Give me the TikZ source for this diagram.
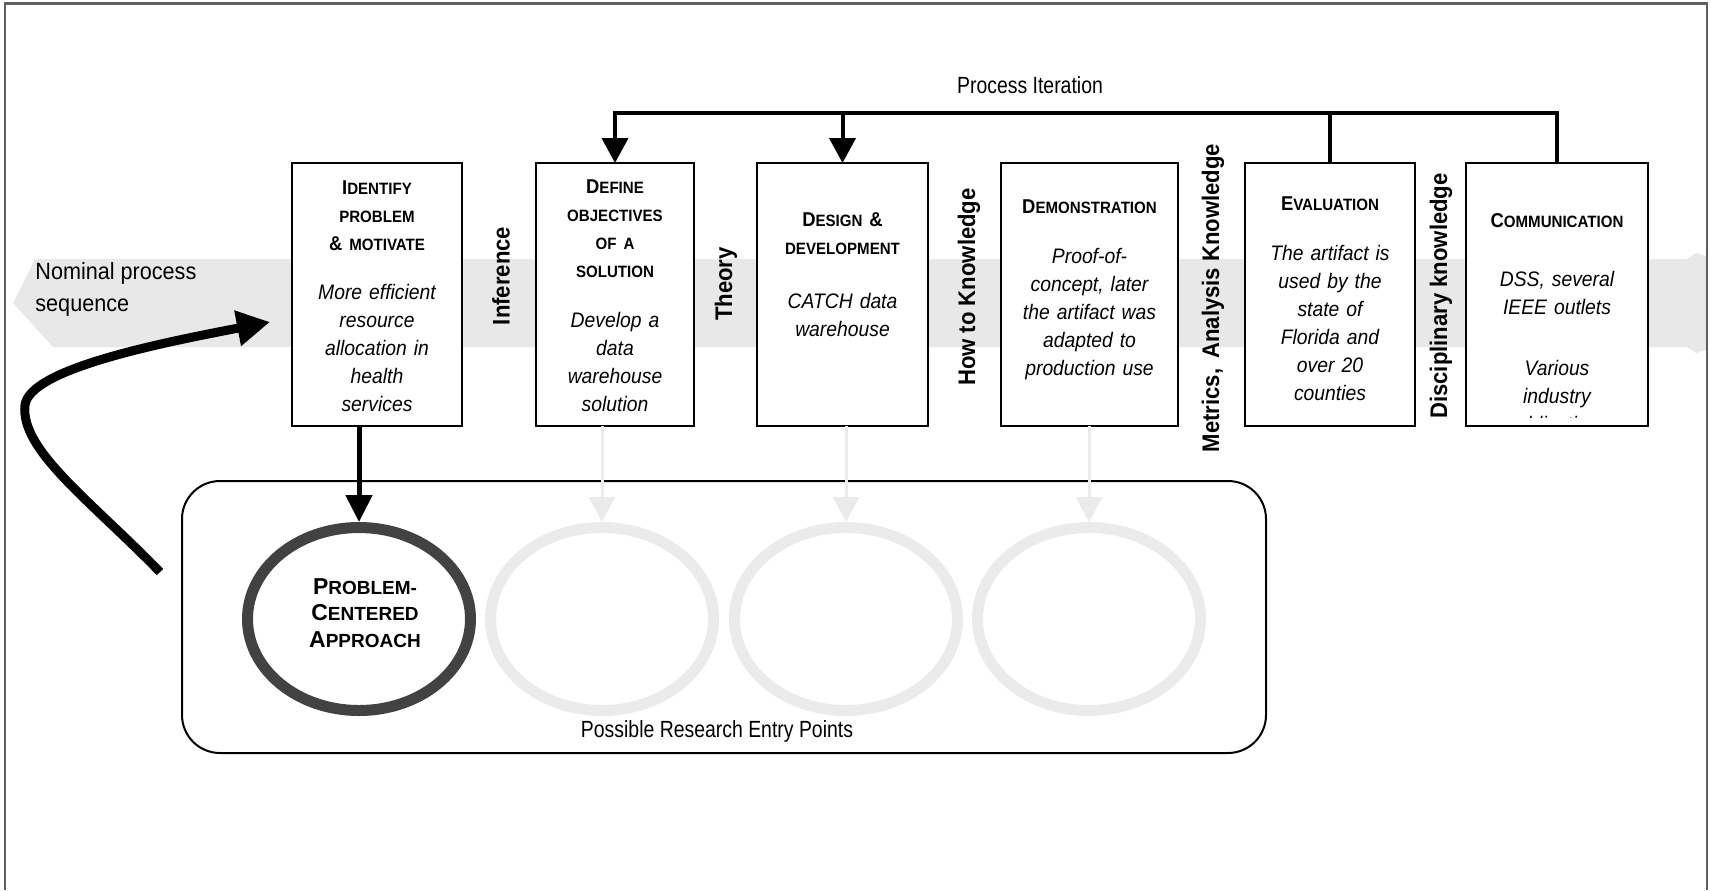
\documentclass[tikz,border=0pt]{standalone}
\usepackage{fontspec}
\setmainfont{Liberation Sans}[FakeStretch=0.92]
\newfontfamily\narrowfont{Liberation Sans}[FakeStretch=0.83]
\newfontfamily\plainfont{Liberation Sans}
\usetikzlibrary{arrows.meta, shapes.geometric, positioning}
\definecolor{bandgray}{HTML}{E8E8E8}
\definecolor{ghostgray}{HTML}{EBEBEB}
\definecolor{ringdark}{HTML}{424242}
\definecolor{framegray}{HTML}{5F5F5F}
% small caps by hand: first letter large, rest small
\newcommand{\sct}[2]{{\fontsize{10pt}{14pt}\selectfont #1}{\fontsize{8.2pt}{14pt}\selectfont #2}}
\newcommand{\pct}[2]{{\fontsize{11.5pt}{13.25pt}\selectfont #1}{\fontsize{9.5pt}{13.25pt}\selectfont #2}}

\begin{document}
\begin{tikzpicture}[x=0.5pt, y=-0.5pt,
    stepbox/.style={draw, line width=1pt, fill=white, minimum height=131.5pt, inner sep=0pt, outer sep=0pt},
    boxtext/.style={align=center, text width=80pt, inner sep=0pt, font=\fontsize{10.5pt}{14pt}\selectfont},
    sidelabel/.style={rotate=90, inner sep=0pt, font=\fontsize{12pt}{14pt}\selectfont\bfseries},
    ring/.style={ellipse, line width=5.5pt, minimum width=111.5pt, minimum height=91.5pt, inner sep=0pt},
    iterline/.style={line width=2pt},
    plainlabel/.style={inner sep=0pt, font=\narrowfont\fontsize{11.7pt}{14pt}\selectfont}]
    \useasboundingbox (0,0) rectangle (1711,890);
    % nominal process band and frame
    \fill[bandgray] (35,259) -- (1687,259) -- (1696,253) -- (1706,256) -- (1706,350) -- (1696,353) -- (1687,347) -- (53,347) -- (13,303) -- cycle;
    \draw[framegray, line width=1.2pt] (5,890) -- (5,3.5) -- (1707,3.5) -- (1707,890);
    \node[anchor=west, align=left, inner sep=0pt, font=\fontsize{11.75pt}{16pt}\selectfont] (nominal) at (35,289) {Nominal process\\sequence};

    % the six steps
    \node[stepbox, minimum width=85pt] (idp) at (377,294.5) {};
    \node[stepbox, minimum width=79pt, right=37pt of idp] (obj) {};
    \node[stepbox, minimum width=85.5pt, right=31.5pt of obj] (dsg) {};
    \node[stepbox, minimum width=88.5pt, right=36.5pt of dsg] (dmo) {};
    \node[stepbox, minimum width=85pt, right=33.5pt of dmo] (evl) {};
    \node[stepbox, minimum width=91pt, right=25.5pt of evl] (com) {};

    \node[boxtext] (idp-t) at ([yshift=-0.75pt]idp.center) {{\bfseries\sct{I}{DENTIFY}\\\sct{}{PROBLEM}\\\sct{\&}{ MOTIVATE}}\\[10.5pt]{\itshape More efficient\\resource\\allocation in\\health\\services}};
    \node[boxtext] (obj-t) at ([yshift=-0.75pt]obj.center) {{\bfseries\sct{D}{EFINE}\\\sct{}{OBJECTIVES}\\\sct{}{OF A}\\\sct{}{SOLUTION}}\\[11pt]{\itshape Develop a\\data\\warehouse\\solution}};
    \node[boxtext] (dsg-t) at ([yshift=9.75pt]dsg.center) {{\bfseries\sct{D}{ESIGN }\sct{\&}{}\\\sct{}{DEVELOPMENT}}\\[13pt]{\itshape CATCH data\\warehouse}};
    \node[boxtext] (dmo-t) at ([yshift=2.25pt]dmo.center) {{\bfseries\sct{D}{EMONSTRATION}}\\[11pt]{\itshape Proof-of-\\concept, later\\the artifact was\\adapted to\\production use}};
    \node[boxtext] (evl-t) at ([yshift=-2pt]evl.center) {{\bfseries\sct{E}{VALUATION}}\\[11pt]{\itshape The artifact is\\used by the\\state of\\Florida and\\over 20\\counties}};
    \begin{scope}
        \clip (com.north west) rectangle ([yshift=4.5pt]com.south east);
        \node[boxtext] (com-t) at ([yshift=-15pt]com.center) {{\bfseries\sct{C}{OMMUNICATION}}\\[15.5pt]{\itshape DSS, several\\IEEE outlets\\[16.5pt]Various\\industry\\publications}};
    \end{scope}

    % knowledge between the steps
    \node[sidelabel] (infer) at (501,276) {Inference};
    \node[sidelabel] (theory) at (726,284) {Theory};
    \node[sidelabel] (howto) at (969,287) {How to Knowledge};
    \node[sidelabel] (metrics) at (1213,298) {Metrics, \,Analysis Knowledge};
    \node[sidelabel] (discip) at (1441,296) {Disciplinary knowledge};

    % process iteration
    \node[plainlabel] (iterlbl) at (1030,85) {Process Iteration};
    \coordinate (iter) at (0,113);
    \draw[iterline, -{Triangle[length=12.5pt,width=13pt]}] (com.north) -- (com.north |- iter) -- (obj.north |- iter) -- (obj.north);
    \draw[iterline, -{Triangle[length=12.5pt,width=13pt]}] (dsg.north |- iter) -- (dsg.north);
    \draw[iterline] (evl.north |- iter) -- (evl.north);

    % research entry points
    \node[draw, line width=1pt, rounded corners=19pt, minimum width=542pt, minimum height=136pt, inner sep=0pt] (entry) at (724,617) {};
    \node[plainlabel] (entrylbl) at (717,731) {Possible Research Entry Points};
    \node[ring, draw=ringdark] (prob) at (359,619) {};
    \node[align=center, inner sep=0pt, font=\plainfont\bfseries\fontsize{11.5pt}{13.25pt}\selectfont] (prob-t) at ([xshift=3pt, yshift=3pt]prob.center) {\pct{P}{ROBLEM-}\\\pct{C}{ENTERED}\\\pct{A}{PPROACH}};
    \foreach \i/\x in {1/602, 2/846, 3/1089}
        \node[ring, draw=ghostgray] (ring\i) at (\x,619) {};

    \draw[line width=2.5pt, -{Triangle[length=13.5pt,width=13pt]}] (prob.north |- idp.south) -- (prob.north);
    \foreach \i/\b in {1/obj, 2/dsg, 3/dmo}
        \draw[ghostgray, line width=1.5pt, -{Triangle[length=12.5pt,width=13pt]}] (ring\i.north |- \b.south) -- (ring\i.north);

    % entry loop back into the sequence
    \coordinate (loopstart) at (160,572);
    \coordinate (looptip) at (270,322);
    \draw[line width=4.5pt, -{Triangle[length=16.5pt,width=17pt]}] (loopstart) .. controls (90,500) and (20,450) .. (25,405) .. controls (30,370) and (150,345) .. (looptip);
\end{tikzpicture}
\end{document}
